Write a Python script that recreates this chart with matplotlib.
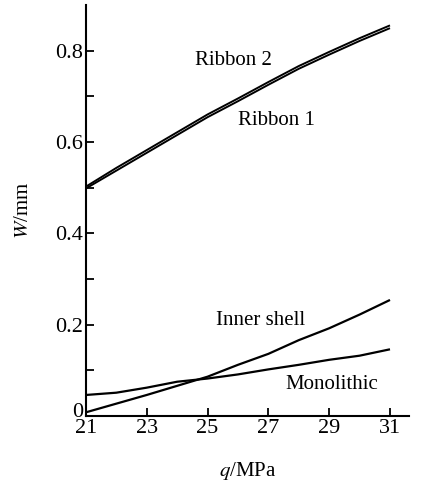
import numpy as np
import matplotlib
matplotlib.use("Agg")
import matplotlib.pyplot as plt
import matplotlib.transforms as mtransforms
from matplotlib.ticker import FixedLocator

plt.rcParams['font.family'] = ['Liberation Serif', 'DejaVu Serif']
plt.rcParams['mathtext.fontset'] = 'stix'

# data
q = [21, 22, 23, 24, 25, 26, 27, 28, 29, 30, 31]
ribbon2 = [0.502, 0.543, 0.582, 0.621, 0.660, 0.695, 0.731, 0.766, 0.797, 0.827, 0.855]
ribbon1 = [0.498, 0.537, 0.576, 0.615, 0.654, 0.689, 0.725, 0.760, 0.791, 0.821, 0.849]
innerShell = [0.008, 0.027, 0.046, 0.066, 0.086, 0.112, 0.136, 0.166, 0.192, 0.222, 0.254]
monolithic = [0.046, 0.051, 0.062, 0.075, 0.082, 0.091, 0.102, 0.112, 0.123, 0.132, 0.146]

labels = ["Ribbon 2", "Ribbon 1", "Inner shell", "Monolithic"]
labelPos = [(25.84, 0.779), (27.25, 0.646), (26.76, 0.21), (29.1, 0.07)]

fig = plt.figure(figsize=(4.25, 4.84), dpi=100)
ax = fig.add_axes([0.202, 0.1405, 0.76, 0.8495])

for ys in [ribbon2, ribbon1]:
    ax.plot(q, ys, color='black', linewidth=1.4, solid_capstyle='butt')
for ys in [innerShell, monolithic]:
    ax.plot(q, ys, color='black', linewidth=1.6, solid_capstyle='butt')

for txt, (x, y) in zip(labels, labelPos):
    ax.text(x, y, txt, fontsize=15, ha='center', va='center')

ax.set_xlim(21, 31.62)
ax.set_ylim(0, 0.9)
ax.xaxis.set_major_locator(FixedLocator([21, 23, 25, 27, 29, 31]))
ax.yaxis.set_major_locator(FixedLocator([0, 0.2, 0.4, 0.6, 0.8]))
ax.yaxis.set_minor_locator(FixedLocator([0.1, 0.3, 0.5, 0.7]))
ax.set_yticklabels(['0', '0.2', '0.4', '0.6', '0.8'])
ax.set_xticklabels(['21', '23', '25', '27', '29', '31'])
ax.tick_params(which='both', direction='in', length=6, width=1.3, labelsize=16, pad=2)

# lift the "0" label a little so it sits just above "21"
zeroLabel = ax.get_yticklabels()[0]
zeroLabel.set_transform(zeroLabel.get_transform() +
                        mtransforms.ScaledTranslation(0, 4 / 72, fig.dpi_scale_trans))

for s in ['top', 'right']:
    ax.spines[s].set_visible(False)
for s in ['left', 'bottom']:
    ax.spines[s].set_linewidth(1.5)

ax.set_xlabel('$q$/MPa', fontsize=15, labelpad=16)
ax.set_ylabel('$W$/mm', fontsize=15, labelpad=16)

fig.savefig('out.png', dpi=100)
